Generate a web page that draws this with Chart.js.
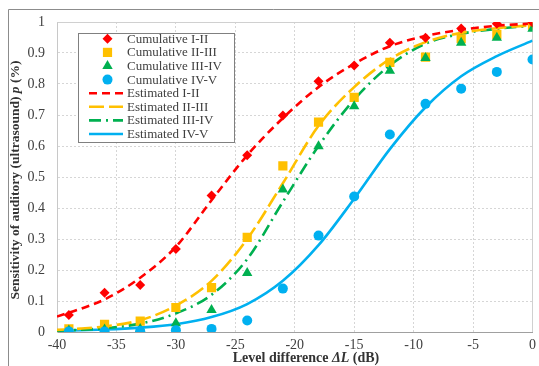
<!DOCTYPE html>
<html><head><meta charset="utf-8">
<script src="https://cdn.jsdelivr.net/npm/chart.js@4/dist/chart.umd.min.js"></script>
<style>html,body{margin:0;padding:0;background:#fff}canvas{display:block}</style>
</head><body><canvas id="c" width="539" height="366"></canvas>
<script>
// ---- data ----
const cumX = [-39, -36, -33, -30, -27, -24, -21, -18, -15, -12, -9, -6, -3, 0];
const cumI_II   = [0.055, 0.127, 0.152, 0.268, 0.44, 0.57, 0.698, 0.809, 0.86, 0.933, 0.949, 0.979, 0.994, 0.998];
const cumII_III = [0.01, 0.025, 0.035, 0.079, 0.143, 0.305, 0.536, 0.677, 0.757, 0.87, 0.887, 0.946, 0.96, 0.99];
const cumIII_IV = [0.005, 0.008, 0.01, 0.028, 0.071, 0.19, 0.46, 0.599, 0.728, 0.843, 0.884, 0.933, 0.949, 0.978];
const cumIV_V   = [0.002, 0.002, 0.003, 0.006, 0.01, 0.037, 0.14, 0.311, 0.437, 0.637, 0.736, 0.785, 0.839, 0.879];

const estX = [-40, -38, -36, -33, -30, -27, -24, -21, -18, -15, -12, -9, -6, -3, 0];
const estI_II   = [0.05, 0.075, 0.105, 0.175, 0.275, 0.425, 0.57, 0.69, 0.79, 0.865, 0.922, 0.955, 0.975, 0.988, 0.995];
const estII_III = [0.007, 0.011, 0.018, 0.038, 0.085, 0.165, 0.30, 0.48, 0.665, 0.79, 0.88, 0.935, 0.965, 0.98, 0.99];
const estIII_IV = [0.004, 0.007, 0.012, 0.027, 0.06, 0.12, 0.235, 0.42, 0.60, 0.75, 0.86, 0.93, 0.962, 0.978, 0.988];
const estIV_V   = [0.004, 0.006, 0.008, 0.014, 0.025, 0.048, 0.09, 0.165, 0.28, 0.43, 0.59, 0.725, 0.825, 0.89, 0.94];

const cumLabels = ['Cumulative I-II', 'Cumulative II-III', 'Cumulative III-IV', 'Cumulative IV-V'];
const estLabels = ['Estimated I-II', 'Estimated II-III', 'Estimated III-IV', 'Estimated IV-V'];
const xTitle = ['Level difference ', 'ΔL', ' (dB)'];
const yTitle = ['Sensitivity of auditory (ultrasound) ', 'p', ' (%)'];

const RED = '#FF0000', YEL = '#FFC000', GRN = '#00B050', BLU = '#00B0F0';
const SERIF = '"Liberation Serif", "Times New Roman", serif';

const pts = (xs, ys) => xs.map((x, i) => ({x, y: ys[i]}));

function cum(label, ys, color, style, r, order) {
  return {label, data: pts(cumX, ys), showLine: false, pointStyle: style, pointRadius: r,
    pointBackgroundColor: color, pointBorderColor: color, pointBorderWidth: 0,
    backgroundColor: color, borderColor: color, order};
}
function est(label, ys, color, dash, order) {
  return {label, data: pts(estX, ys), showLine: true, pointRadius: 0, borderColor: color,
    backgroundColor: color, borderWidth: 2.6, borderDash: dash, cubicInterpolationMode: 'monotone',
    fill: false, order};
}

const datasets = [
  cum(cumLabels[0], cumI_II, RED, 'rectRot', 5, 0),
  cum(cumLabels[1], cumII_III, YEL, 'rect', 6.5, 3),
  cum(cumLabels[2], cumIII_IV, GRN, 'triangle', 6, 2),
  cum(cumLabels[3], cumIV_V, BLU, 'circle', 5, 1),
  est(estLabels[0], estI_II, RED, [8, 5], 4),
  est(estLabels[1], estII_III, YEL, [15, 5], 5),
  est(estLabels[2], estIII_IV, GRN, [12, 5, 2, 5], 6),
  est(estLabels[3], estIV_V, BLU, [], 7)
];

function drawMixed(ctx, parts, x, y, size) {
  const fonts = ['bold ' + size + 'px ' + SERIF, 'italic bold ' + size + 'px ' + SERIF, 'bold ' + size + 'px ' + SERIF];
  let widths = parts.map((p, i) => { ctx.font = fonts[i]; return ctx.measureText(p).width; });
  let total = widths.reduce((a, b) => a + b, 0);
  let cx = x - total / 2;
  parts.forEach((p, i) => { ctx.font = fonts[i]; ctx.fillText(p, cx, y); cx += widths[i]; });
}

function drawMarker(ctx, style, x, y, r, color) {
  ctx.fillStyle = color;
  ctx.beginPath();
  if (style === 'rectRot') {
    ctx.moveTo(x, y - r); ctx.lineTo(x + r, y); ctx.lineTo(x, y + r); ctx.lineTo(x - r, y);
  } else if (style === 'rect') {
    const s = r * Math.SQRT1_2; ctx.rect(x - s, y - s, 2 * s, 2 * s);
  } else if (style === 'triangle') {
    ctx.moveTo(x, y - r); ctx.lineTo(x + r * 0.866, y + r * 0.5); ctx.lineTo(x - r * 0.866, y + r * 0.5);
  } else {
    ctx.arc(x, y, r, 0, Math.PI * 2);
  }
  ctx.closePath(); ctx.fill();
}

const decor = {
  id: 'decor',
  beforeDraw(chart) {
    const ctx = chart.ctx;
    ctx.save();
    ctx.fillStyle = '#fff'; ctx.fillRect(0, 0, chart.width, chart.height);
    ctx.strokeStyle = '#8c8c8c'; ctx.lineWidth = 1;
    ctx.beginPath(); ctx.moveTo(8.5, chart.height); ctx.lineTo(8.5, 9.5); ctx.lineTo(chart.width, 9.5); ctx.stroke();
    ctx.restore();
  },
  beforeDatasetsDraw(chart) {
    const ctx = chart.ctx, a = chart.chartArea;
    ctx.save();
    ctx.strokeStyle = '#d0d0d0'; ctx.lineWidth = 1;
    ctx.beginPath();
    ctx.moveTo(Math.round(a.left) + 0.5, Math.round(a.top) + 0.5);
    ctx.lineTo(Math.round(a.right) - 0.5, Math.round(a.top) + 0.5);
    ctx.lineTo(Math.round(a.right) - 0.5, Math.round(a.bottom));
    ctx.stroke();
    ctx.restore();
  },
  afterDraw(chart) {
    const ctx = chart.ctx;
    ctx.save();
    // legend
    ctx.fillStyle = '#fff'; ctx.fillRect(78, 33, 156, 109);
    ctx.strokeStyle = '#808080'; ctx.lineWidth = 1; ctx.strokeRect(78.5, 33.5, 156, 109);
    ctx.font = '13px ' + SERIF; ctx.textBaseline = 'middle'; ctx.textAlign = 'left';
    chart.data.datasets.forEach((ds, i) => {
      const y = 38.8 + i * 13.6;
      if (ds.showLine) {
        ctx.save();
        ctx.strokeStyle = ds.borderColor; ctx.lineWidth = 2.6; ctx.setLineDash(ds.borderDash);
        ctx.beginPath(); ctx.moveTo(89, y); ctx.lineTo(123, y); ctx.stroke();
        ctx.restore();
      } else {
        drawMarker(ctx, ds.pointStyle, 107.5, y, ds.pointRadius, ds.pointBackgroundColor);
      }
      ctx.fillStyle = '#404040';
      ctx.fillText(ds.label, 127, y + 0.5);
    });
    // axis titles
    ctx.fillStyle = '#333';
    ctx.textBaseline = 'middle'; ctx.textAlign = 'left';
    drawMixed(ctx, xTitle, 306, 358, 14);
    ctx.translate(16, 180); ctx.rotate(-Math.PI / 2);
    drawMixed(ctx, yTitle, 0, 0, 13.5);
    ctx.restore();
  }
};

new Chart(document.getElementById('c'), {
  type: 'line',
  data: {datasets},
  options: {
    responsive: false, animation: false,
    layout: {padding: {top: 22, right: 2, left: 0, bottom: 0}},
    plugins: {legend: {display: false}, tooltip: {enabled: false}},
    scales: {
      x: {
        type: 'linear', min: -40, max: 0,
        ticks: {stepSize: 5, color: '#404040', font: {family: SERIF, size: 14}, padding: 5, maxRotation: 0},
        grid: {color: '#d6d6d6', drawTicks: false},
        border: {color: '#a0a0a0', dash: [2, 2]},
        afterFit(s) { s.height = 34; s.paddingLeft = 0; s.paddingRight = 0; }
      },
      y: {
        min: 0, max: 1,
        ticks: {stepSize: 0.1, color: '#404040', font: {family: SERIF, size: 14}, padding: 12,
          callback: v => String(Number(v.toFixed(1)))},
        grid: {color: '#d6d6d6', drawTicks: false},
        border: {color: '#c8c8c8', dash: [2, 2]},
        afterFit(s) { s.width = 57; s.paddingTop = 0; s.paddingBottom = 0; }
      }
    }
  },
  plugins: [decor]
});
</script>
</body></html>
